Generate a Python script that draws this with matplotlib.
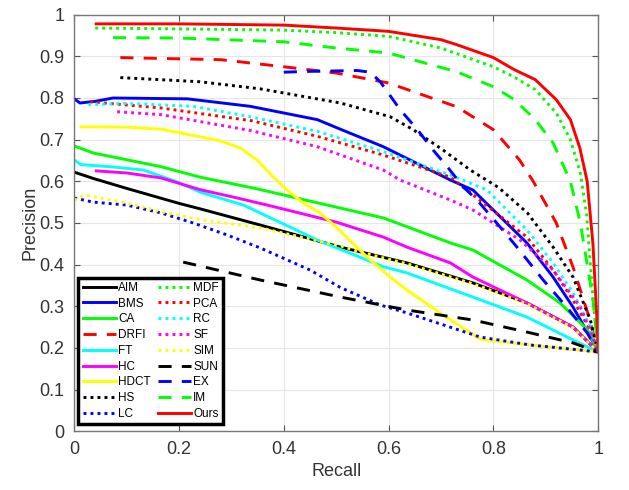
import numpy as np
import matplotlib.pyplot as plt

plt.rcParams['font.family'] = ['Liberation Sans', 'DejaVu Sans']

# precision-recall curves
aim_x = [0, 0.036, 0.1, 0.2, 0.24, 0.355, 0.508, 0.635, 0.761, 0.864, 0.952, 1.0]
aim_y = [0.622, 0.607, 0.583, 0.547, 0.534, 0.495, 0.442, 0.404, 0.356, 0.308, 0.25, 0.19]

bms_x = [0, 0.011, 0.04, 0.074, 0.216, 0.336, 0.464, 0.508, 0.59, 0.718, 0.761, 0.864, 0.914, 0.952, 0.985, 1.0]
bms_y = [0.798, 0.788, 0.792, 0.80, 0.798, 0.78, 0.748, 0.725, 0.683, 0.603, 0.579, 0.452, 0.37, 0.298, 0.226, 0.19]

ca_x = [0, 0.036, 0.166, 0.24, 0.345, 0.5, 0.59, 0.718, 0.761, 0.864, 0.927, 0.98, 1.0]
ca_y = [0.685, 0.668, 0.635, 0.61, 0.583, 0.538, 0.512, 0.452, 0.435, 0.363, 0.308, 0.243, 0.19]

drfi_x = [0.088, 0.28, 0.4, 0.5, 0.6, 0.73, 0.8, 0.85, 0.876, 0.92, 0.952, 0.98, 1.0]
drfi_y = [0.897, 0.892, 0.875, 0.86, 0.836, 0.779, 0.724, 0.651, 0.60, 0.50, 0.394, 0.284, 0.19]

ft_x = [0, 0.013, 0.069, 0.132, 0.196, 0.24, 0.323, 0.464, 0.59, 0.635, 0.761, 0.864, 0.952, 1.0]
ft_y = [0.651, 0.64, 0.635, 0.627, 0.599, 0.574, 0.543, 0.459, 0.395, 0.38, 0.322, 0.274, 0.219, 0.19]

hc_x = [0.042, 0.1, 0.166, 0.24, 0.304, 0.368, 0.5, 0.59, 0.635, 0.718, 0.761, 0.864, 0.952, 1.0]
hc_y = [0.625, 0.62, 0.608, 0.58, 0.562, 0.543, 0.502, 0.466, 0.442, 0.404, 0.37, 0.308, 0.25, 0.19]

hdct_x = [0.013, 0.1, 0.166, 0.24, 0.279, 0.317, 0.349, 0.38, 0.406, 0.437, 0.469, 0.5, 0.559, 0.603,
          0.635, 0.698, 0.775, 0.87, 1.0]
hdct_y = [0.731, 0.73, 0.725, 0.707, 0.697, 0.68, 0.651, 0.61, 0.579, 0.548, 0.524, 0.49, 0.418, 0.37,
          0.339, 0.284, 0.221, 0.207, 0.19]

hs_x = [0.088, 0.24, 0.355, 0.508, 0.603, 0.647, 0.704, 0.756, 0.81, 0.865, 0.914, 0.952, 0.985, 1.0]
hs_y = [0.849, 0.839, 0.822, 0.788, 0.755, 0.724, 0.675, 0.627, 0.585, 0.524, 0.442, 0.37, 0.267, 0.19]

lc_x = [0, 0.036, 0.1, 0.166, 0.227, 0.292, 0.355, 0.45, 0.508, 0.584, 0.635, 0.775, 0.87, 0.965, 1.0]
lc_y = [0.56, 0.55, 0.543, 0.524, 0.5, 0.471, 0.44, 0.387, 0.345, 0.303, 0.284, 0.226, 0.207, 0.195, 0.19]

mdf_x = [0.04, 0.2, 0.4, 0.5, 0.6, 0.7, 0.8, 0.84, 0.88, 0.92, 0.947, 0.966, 0.978, 0.99, 1.0]
mdf_y = [0.968, 0.966, 0.963, 0.957, 0.948, 0.92, 0.875, 0.85, 0.82, 0.764, 0.70, 0.62, 0.52, 0.32, 0.19]

pca_x = [0.03, 0.166, 0.34, 0.464, 0.59, 0.718, 0.864, 0.914, 0.952, 0.985, 1.0]
pca_y = [0.791, 0.776, 0.745, 0.708, 0.663, 0.61, 0.466, 0.387, 0.315, 0.243, 0.19]

rc_x = [0.027, 0.1, 0.227, 0.336, 0.464, 0.59, 0.718, 0.788, 0.864, 0.914, 0.952, 0.985, 1.0]
rc_y = [0.784, 0.787, 0.78, 0.755, 0.72, 0.671, 0.615, 0.579, 0.483, 0.404, 0.332, 0.25, 0.19]

sf_x = [0.082, 0.166, 0.336, 0.464, 0.59, 0.622, 0.718, 0.761, 0.851, 0.914, 0.966, 0.99, 1.0]
sf_y = [0.767, 0.76, 0.722, 0.683, 0.627, 0.603, 0.555, 0.531, 0.459, 0.387, 0.298, 0.226, 0.19]

sim_x = [0, 0.02, 0.1, 0.166, 0.24, 0.355, 0.508, 0.546, 0.635, 0.761, 0.864, 0.952, 1.0]
sim_y = [0.555, 0.567, 0.548, 0.527, 0.508, 0.488, 0.445, 0.43, 0.402, 0.354, 0.306, 0.248, 0.19]

sun_x = [0.208, 0.355, 0.508, 0.635, 0.761, 0.864, 0.952, 1.0]
sun_y = [0.406, 0.363, 0.322, 0.291, 0.267, 0.238, 0.212, 0.19]

ex_x = [0.40, 0.45, 0.5, 0.54, 0.565, 0.584, 0.622, 0.655, 0.685, 0.712, 0.742, 0.769, 0.813, 0.845,
        0.895, 0.94, 0.979, 1.0]
ex_y = [0.862, 0.864, 0.865, 0.866, 0.862, 0.839, 0.772, 0.724, 0.675, 0.635, 0.587, 0.555, 0.49, 0.442,
        0.363, 0.298, 0.236, 0.19]

im_x = [0.074, 0.2, 0.4, 0.5, 0.6, 0.73, 0.8, 0.84, 0.88, 0.914, 0.947, 0.966, 0.99, 1.0]
im_y = [0.945, 0.944, 0.935, 0.92, 0.908, 0.863, 0.827, 0.796, 0.748, 0.692, 0.60, 0.50, 0.315, 0.19]

ours_x = [0.042, 0.2, 0.4, 0.5, 0.6, 0.7, 0.73, 0.8, 0.84, 0.88, 0.92, 0.947, 0.965, 0.979, 0.99, 0.998, 1.0]
ours_y = [0.978, 0.978, 0.975, 0.968, 0.96, 0.94, 0.928, 0.897, 0.868, 0.844, 0.796, 0.748, 0.68, 0.6, 0.45,
          0.26, 0.19]

#
# pure MATLAB colours
#
K, B, G, R, C, M, Y = "#000000", "#0000ff", "#00ff00", "#ff0000", "#00ffff", "#ff00ff", "#ffff00"
dot = (0, (1, 1.4))
dash = (0, (4.5, 3.5))
curves = [
    ("AIM", aim_x, aim_y, K, "-"),
    ("BMS", bms_x, bms_y, B, "-"),
    ("CA", ca_x, ca_y, G, "-"),
    ("DRFI", drfi_x, drfi_y, R, dash),
    ("FT", ft_x, ft_y, C, "-"),
    ("HC", hc_x, hc_y, M, "-"),
    ("HDCT", hdct_x, hdct_y, Y, "-"),
    ("HS", hs_x, hs_y, K, dot),
    ("LC", lc_x, lc_y, B, dot),
    ("MDF", mdf_x, mdf_y, G, dot),
    ("PCA", pca_x, pca_y, R, dot),
    ("RC", rc_x, rc_y, C, dot),
    ("SF", sf_x, sf_y, M, dot),
    ("SIM", sim_x, sim_y, Y, dot),
    ("SUN", sun_x, sun_y, K, dash),
    ("EX", ex_x, ex_y, B, dash),
    ("IM", im_x, im_y, G, dash),
    ("Ours", ours_x, ours_y, R, "-"),
]

fig = plt.figure(figsize=(6.29, 4.9), dpi=100)
ax = fig.add_axes([0.118, 0.12, 0.833, 0.85])

for name, xs, ys, col, ls in curves:
    ax.plot(xs, ys, color=col, linestyle=ls, linewidth=2.1, label=name)

ax.set_xlim(0, 1)
ax.set_ylim(0, 1)
ax.set_xticks(np.arange(0, 1.01, 0.2))
ax.set_yticks(np.arange(0, 1.01, 0.1))
ax.set_xticklabels(["0", "0.2", "0.4", "0.6", "0.8", "1"])
ax.set_yticklabels(["0", "0.1", "0.2", "0.3", "0.4", "0.5", "0.6", "0.7", "0.8", "0.9", "1"])
ax.grid(True, color="#e6e6e6", linewidth=0.8)
ax.set_axisbelow(True)
ax.tick_params(direction="in", top=True, right=True, length=4, color="#555555",
               labelsize=13, labelcolor="#333333", pad=7)
for s in ax.spines.values():
    s.set_color("#777777")
    s.set_linewidth(1.0)

ax.set_xlabel("Recall", fontsize=13, color="#333333", labelpad=4)
ax.set_ylabel("Precision", fontsize=13, color="#333333")
ax.yaxis.set_label_coords(-0.069, 0.5)

leg = ax.legend(ncol=2, loc="lower left", bbox_to_anchor=(0.008, 0.017), borderaxespad=0,
                fontsize=8.5, handlelength=2.8, handletextpad=0.2, columnspacing=0.6,
                labelspacing=0.32, borderpad=0.35, fancybox=False, framealpha=1)
leg.get_frame().set_edgecolor("black")
leg.get_frame().set_linewidth(2.5)

plt.savefig("out.png", dpi=100)
